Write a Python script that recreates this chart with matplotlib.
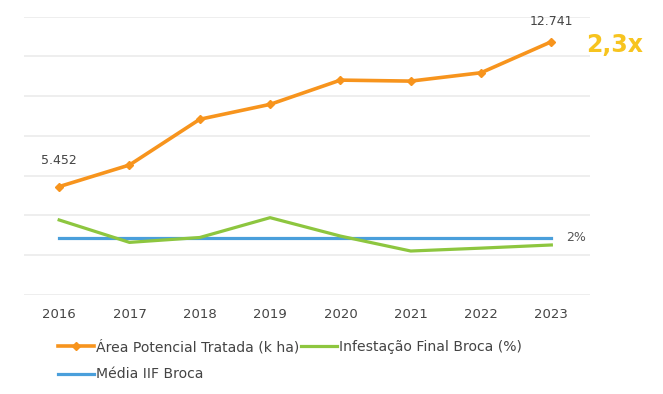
import matplotlib
matplotlib.use("Agg")
import matplotlib.pyplot as plt

anos = [2016, 2017, 2018, 2019, 2020, 2021, 2022, 2023]
area_tratada = [5452, 6540, 8840, 9590, 10810, 10760, 11180, 12741]   # k ha
infestacao = [2.61, 1.83, 2.0, 2.69, 2.05, 1.53, 1.63, 1.74]           # %
media_iif = [2.0] * len(anos)

laranja = "#F7941D"
verde = "#8DC63F"
azul = "#4A9FDB"

plt.rcParams['font.family'] = ['DejaVu Sans']

fig = plt.figure(figsize=(6.63, 3.94), dpi=100)
ax = fig.add_axes([24/663, 1 - 295/394, 566/663, 278.3/394])
ax2 = ax.twinx()

ax.set_xlim(2015.5, 2023.55)
ax.set_ylim(0, 14000)
ax2.set_ylim(0, 9.68)

ax.set_yticks(range(0, 14001, 2000))
ax.yaxis.grid(True, color="#ebebeb", lw=1.2)
ax.set_axisbelow(True)
ax.tick_params(axis="y", left=False, labelleft=False)
ax.tick_params(axis="x", length=0, pad=9, labelsize=9.5, labelcolor="#444444")
ax.set_xticks(anos)
ax2.set_yticks([])
for a in (ax, ax2):
    for s in a.spines.values():
        s.set_visible(False)

l1, = ax.plot(anos, area_tratada, color=laranja, lw=2.6, marker="D", ms=4.5,
              label="Área Potencial Tratada (k ha)", zorder=5)
l2, = ax2.plot(anos, infestacao, color=verde, lw=2.3,
               label="Infestação Final Broca (%)", zorder=4)
l3, = ax2.plot(anos, media_iif, color=azul, lw=2.3,
               label="Média IIF Broca", zorder=3)

ax.annotate("5.452", (anos[0], area_tratada[0]), xytext=(0, 14), textcoords="offset points",
            ha="center", va="bottom", fontsize=9, color="#444444")
ax.annotate("12.741", (anos[-1], area_tratada[-1]), xytext=(0, 10), textcoords="offset points",
            ha="center", va="bottom", fontsize=9, color="#444444")
ax.annotate("2,3x", (anos[-1], area_tratada[-1]), xytext=(25, -2), textcoords="offset points",
            ha="left", va="center", fontsize=17, fontweight="bold", color="#F7C41F")
ax2.annotate("2%", (anos[-1], media_iif[-1]), xytext=(11, 0), textcoords="offset points",
             ha="left", va="center", fontsize=9, color="#555555")

fig.legend(handles=[l1, l3, l2], loc="upper left", bbox_to_anchor=(52/663, 1 - 334/394),
           ncol=2, frameon=False, fontsize=10.1, handlelength=2.6, handletextpad=0.12,
           columnspacing=0.12, labelspacing=0.95, labelcolor="#444444", borderaxespad=0)

fig.savefig("out.png", dpi=100)
